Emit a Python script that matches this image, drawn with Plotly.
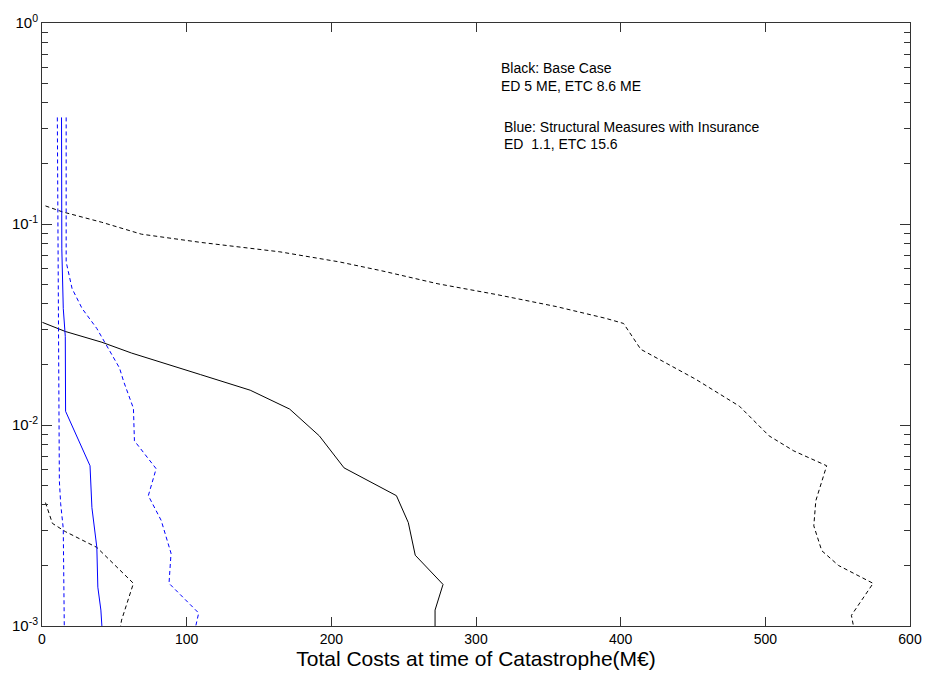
import math
import plotly.graph_objects as go

# ---- data ----
black_med_x = [0.3, 16.1, 41.4, 61.9, 109.7, 143.9, 171.2, 191.7, 208.8, 245.0, 253.2, 258.0, 277.2, 271.7, 271.7]
black_med_y = [0.0324, 0.0292, 0.0258, 0.0228, 0.0178, 0.0149, 0.0120, 0.00883, 0.00612, 0.00445, 0.00327, 0.00225, 0.00161, 0.00120, 0.0010]

black_hi_x = [2.4, 14.0, 41.3, 68.7, 109.7, 164.4, 205.4, 234.8, 273.7, 314.7, 355.7, 389.9, 402.0, 413.9,
              451.8, 482.1, 502.6, 519.7, 542.4, 534.9, 533.5, 539.0, 550.6, 574.5, 559.5, 560.9]
black_hi_y = [0.123, 0.115, 0.102, 0.089, 0.081, 0.0727, 0.0648, 0.0585, 0.0504, 0.0445, 0.0388, 0.0339, 0.0320, 0.0238,
              0.0169, 0.0124, 0.00883, 0.00743, 0.00627, 0.00420, 0.00315, 0.00237, 0.00200, 0.00163, 0.00113, 0.0010]

black_lo_x = [2.4, 7.2, 16.1, 37.9, 63.2, 55.0, 54.3]
black_lo_y = [0.00411, 0.00324, 0.00295, 0.00246, 0.00163, 0.00107, 0.0010]

blue_med_x = [13.5, 13.7, 14.7, 16.1, 16.3, 33.2, 34.5, 37.9, 38.6, 40.7, 41.4]
blue_med_y = [0.339, 0.0752, 0.0380, 0.0276, 0.0117, 0.00627, 0.00388, 0.00246, 0.00156, 0.00120, 0.0010]

blue_lo_x = [10.6, 11.6, 12.0, 12.9, 14.7, 15.4]
blue_lo_y = [0.339, 0.0131, 0.00528, 0.00406, 0.00305, 0.0010]

blue_hi_x = [16.7, 16.7, 20.8, 27.7, 37.9, 48.2, 53.6, 56.4, 63.2, 63.9, 78.9, 73.5, 82.4, 89.2, 87.8, 108.3, 106.3]
blue_hi_y = [0.339, 0.0648, 0.0477, 0.0380, 0.0302, 0.0225, 0.0192, 0.0165, 0.0121, 0.00834, 0.00606, 0.00445,
             0.00335, 0.00230, 0.00163, 0.00116, 0.0010]

x_ticks = [0, 100, 200, 300, 400, 500, 600]
y_ticks = [1e-3, 1e-2, 1e-1, 1e0]
y_tick_text = ["10<sup>-3</sup>", "10<sup>-2</sup>", "10<sup>-1</sup>", "10<sup>0</sup>"]

note_lines = ["Black: Base Case", "ED 5 ME, ETC 8.6 ME",
              "Blue: Structural Measures with Insurance", "ED  1.1, ETC 15.6"]
note_x = [316, 316, 318, 318]
note_y = [0.599, 0.486, 0.305, 0.250]

x_title = "Total Costs at time of Catastrophe(M€)"

# ---- figure ----
fig = go.Figure()
dash = "4px,3px"
series = [
    (black_hi_x, black_hi_y, "black", dash),
    (black_lo_x, black_lo_y, "black", dash),
    (black_med_x, black_med_y, "black", "solid"),
    (blue_lo_x, blue_lo_y, "#0000FF", dash),
    (blue_hi_x, blue_hi_y, "#0000FF", dash),
    (blue_med_x, blue_med_y, "#0000FF", "solid"),
]
for xs, ys, col, d in series:
    fig.add_trace(go.Scatter(x=xs, y=ys, mode="lines",
                             line=dict(color=col, width=1, dash=d),
                             showlegend=False, hoverinfo="skip"))

minor_vals = [m * 10.0 ** e for e in (-3, -2, -1) for m in range(2, 10)]

for txt, xx, yy in zip(note_lines, note_x, note_y):
    fig.add_annotation(x=xx, y=math.log10(yy), xref="x", yref="y", text=txt,
                       showarrow=False, xanchor="left", yanchor="middle",
                       font=dict(family="Liberation Sans, Arial, sans-serif", size=14, color="black"))

fig.update_layout(
    width=934, height=679,
    margin=dict(l=40, r=16, t=20, b=53),
    paper_bgcolor="white", plot_bgcolor="white",
    font=dict(family="Liberation Sans, Arial, sans-serif", color="black"),
    xaxis=dict(range=[0, 600], tickvals=x_ticks, ticks="inside", ticklen=9,
               tickcolor="#333", showline=True, linecolor="#333", linewidth=1,
               mirror="allticks", showgrid=False, zeroline=False,
               tickfont=dict(size=14),
               title=dict(text=x_title, font=dict(size=21), standoff=4)),
    yaxis=dict(type="log", range=[-3, 0], tickvals=y_ticks, ticktext=y_tick_text,
               ticks="inside", ticklen=10, tickcolor="#333",
               minor=dict(tickmode="array", tickvals=minor_vals, ticks="inside",
                          ticklen=6, tickcolor="#333", showgrid=False),
               showline=True, linecolor="#333", linewidth=1, mirror="allticks",
               showgrid=False, zeroline=False, tickfont=dict(size=15)),
)

fig.write_html("out.html")
